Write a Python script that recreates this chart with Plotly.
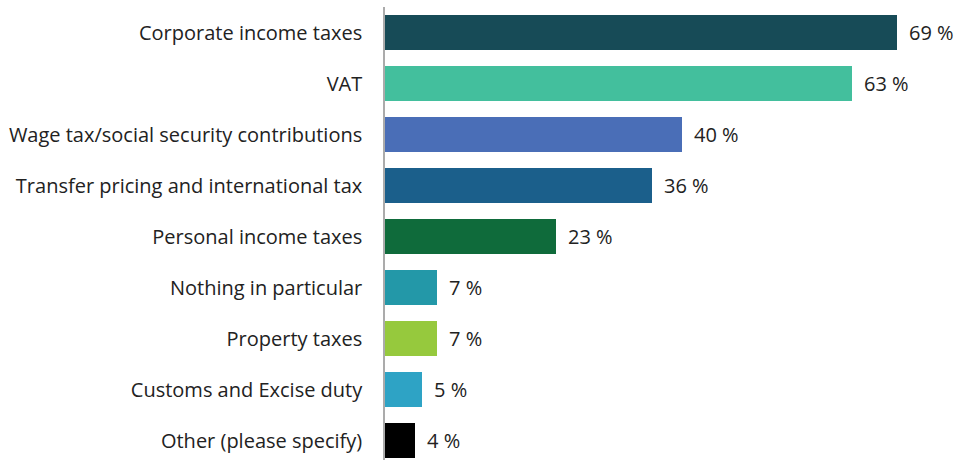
import plotly.graph_objects as go

categories = [
    "Corporate income taxes",
    "VAT",
    "Wage tax/social security contributions",
    "Transfer pricing and international tax",
    "Personal income taxes",
    "Nothing in particular",
    "Property taxes",
    "Customs and Excise duty",
    "Other (please specify)",
]
values = [69, 63, 40, 36, 23, 7, 7, 5, 4]
colors = [
    "#174B57", "#43BF9D", "#4A6EB7", "#1B5F8B", "#0F6B3B",
    "#2398A8", "#96C93D", "#2EA3C5", "#000000",
]

FONT = "Open Sans"
TEXT_COLOR = "#222222"
FONT_SIZE = 20

fig = go.Figure(
    go.Bar(
        x=values,
        y=categories,
        orientation="h",
        marker=dict(color=colors, line=dict(width=0)),
        width=0.686,
        hoverinfo="skip",
    )
)

# value labels to the right of each bar
for cat, val in zip(categories, values):
    fig.add_annotation(
        x=val, y=cat, text=f"{val} %", showarrow=False,
        xanchor="left", yanchor="middle", xshift=10,
        font=dict(family=FONT, size=FONT_SIZE, color=TEXT_COLOR),
    )

left, top = 385, 7
width, height = 956, 460
px_per_unit = 7.42
n_visible = (height - top) / 51.0

fig.update_layout(
    width=width, height=height,
    margin=dict(l=left, r=0, t=top, b=0, pad=0),
    paper_bgcolor="white", plot_bgcolor="white",
    showlegend=False,
    font=dict(family=FONT, size=FONT_SIZE, color=TEXT_COLOR),
    bargap=0,
    xaxis=dict(
        range=[0, (width - left) / px_per_unit],
        showgrid=False, zeroline=False, showticklabels=False,
        showline=False, fixedrange=True,
    ),
    yaxis=dict(
        type="category",
        range=[-0.5 + n_visible, -0.5],
        showgrid=False, zeroline=False,
        showline=True, linecolor="#ababab", linewidth=1.5,
        ticks="", ticklabelstandoff=17,
        tickfont=dict(family=FONT, size=FONT_SIZE, color=TEXT_COLOR),
        fixedrange=True,
    ),
)

fig.write_html("out.html")
